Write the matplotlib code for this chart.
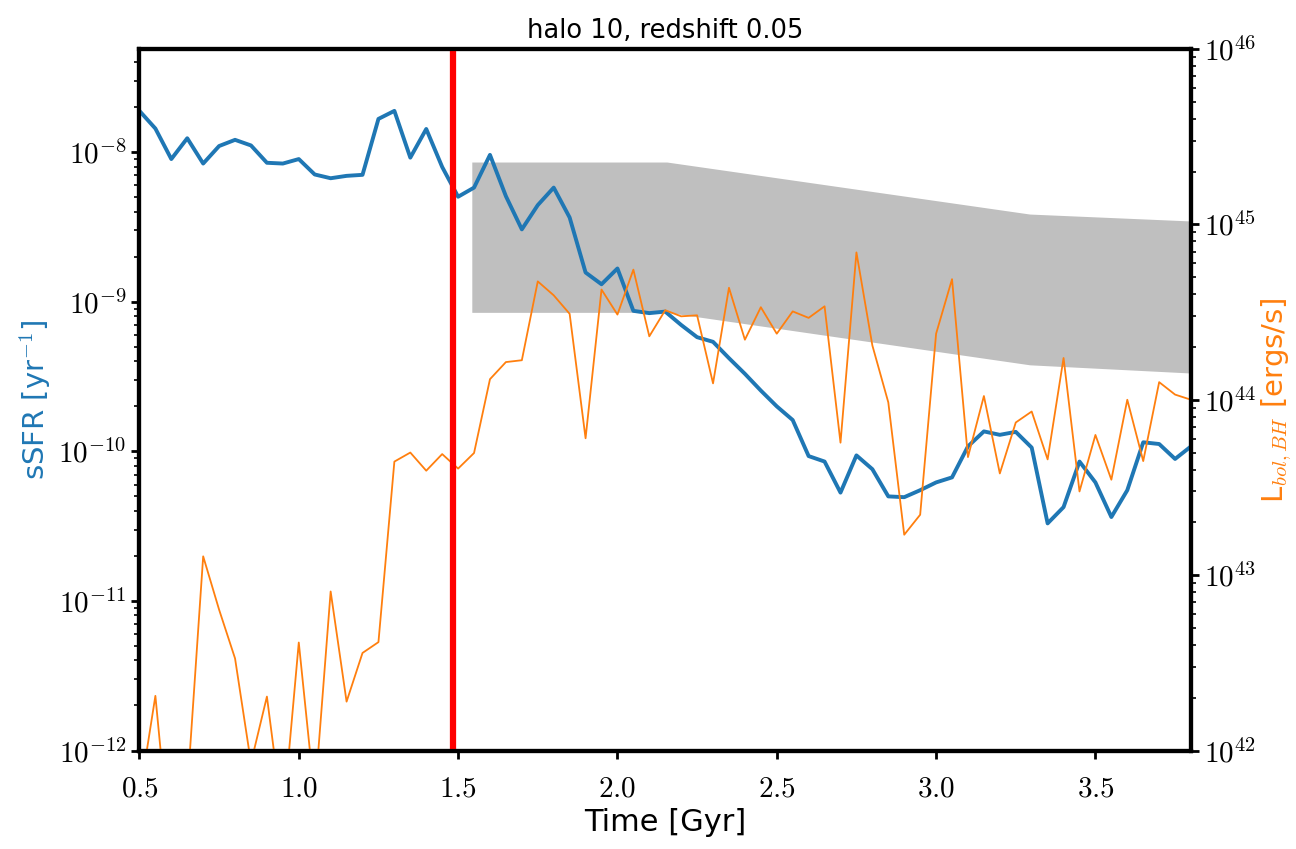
import numpy as np
import matplotlib
matplotlib.use("Agg")
import matplotlib.pyplot as plt
from matplotlib.ticker import FuncFormatter, LogLocator, NullFormatter

plt.rcParams['mathtext.fontset'] = 'cm'
plt.rcParams['font.family'] = ['DejaVu Sans']

# time grid (Gyr)
time = np.round(np.arange(0.5, 3.8001, 0.05), 2)

# specific star formation rate [1/yr]
ssfr = [1.89e-8, 1.44e-8, 9.0e-9, 1.24e-8, 8.4e-9, 1.10e-8, 1.21e-8, 1.11e-8, 8.5e-9, 8.4e-9,
        9.0e-9, 7.1e-9, 6.7e-9, 6.95e-9, 7.06e-9, 1.67e-8, 1.89e-8, 9.2e-9, 1.43e-8, 7.97e-9,
        5.04e-9, 5.8e-9, 9.6e-9, 5.08e-9, 3.05e-9, 4.43e-9, 5.8e-9, 3.66e-9, 1.57e-9, 1.31e-9,
        1.67e-9, 8.7e-10, 8.4e-10, 8.6e-10, 7.0e-10, 5.8e-10, 5.4e-10, 4.2e-10, 3.3e-10, 2.55e-10,
        2.0e-10, 1.62e-10, 9.3e-11, 8.55e-11, 5.3e-11, 9.4e-11, 7.6e-11, 5.0e-11, 4.94e-11, 5.5e-11,
        6.2e-11, 6.7e-11, 1.08e-10, 1.36e-10, 1.29e-10, 1.35e-10, 1.06e-10, 3.3e-11, 4.24e-11, 8.55e-11,
        6.2e-11, 3.64e-11, 5.5e-11, 1.15e-10, 1.12e-10, 8.9e-11, 1.08e-10]

# black hole bolometric luminosity [erg/s]
lbol = [5.4e41, 2.05e42, 2.3e41, 5.9e41, 1.28e43, 6.35e42, 3.35e42, 8.5e41, 2.03e42, 4.0e41,
        4.13e42, 5.4e41, 8.07e42, 1.9e42, 3.6e42, 4.15e42, 4.44e43, 5.0e43, 3.94e43, 4.9e43,
        4.05e43, 4.97e43, 1.31e44, 1.64e44, 1.68e44, 4.73e44, 3.94e44, 3.09e44, 6.03e43, 4.25e44,
        3.06e44, 5.52e44, 2.3e44, 3.24e44, 2.99e44, 3.03e44, 1.24e44, 4.35e44, 2.2e44, 3.37e44,
        2.38e44, 3.19e44, 2.93e44, 3.41e44, 5.69e43, 6.92e44, 2.04e44, 9.66e43, 1.7e43, 2.21e43,
        2.38e44, 4.87e44, 4.71e43, 1.05e44, 3.8e43, 7.42e43, 8.57e43, 4.57e43, 1.73e44, 3.0e43,
        6.3e43, 3.5e43, 1.0e44, 4.47e43, 1.26e44, 1.07e44, 1.0e44]

# star-forming band
band_t = [1.543, 2.155, 3.294, 3.8]
band_lo = [8.5e-10, 8.5e-10, 3.79e-10, 3.34e-10]
band_hi = [8.6e-9, 8.6e-9, 3.86e-9, 3.47e-9]

t_event = 1.483

fig = plt.figure(figsize=(12.96, 8.49), dpi=100)
ax1 = fig.add_axes([0.1076, 0.116, 0.8114, 0.8263])
ax2 = ax1.twinx()

ax1.fill_between(band_t, band_lo, band_hi, color='#bfbfbf', lw=0, zorder=1)
ax1.plot(time, ssfr, color='#1f77b4', lw=2.8, zorder=3)
ax2.plot(time, lbol, color='#ff7f0e', lw=1.3)
ax2.axvline(t_event, color='red', lw=4.5)

ax1.set_yscale('log')
ax2.set_yscale('log')
ax1.set_xlim(0.5, 3.8)
ax1.set_ylim(1e-12, 4.9e-8)
ax2.set_ylim(1e42, 1e46)
ax1.set_xticks([0.5, 1.0, 1.5, 2.0, 2.5, 3.0, 3.5])
ax1.xaxis.set_major_formatter(FuncFormatter(lambda v, p: r'$%.1f$' % v))

log_fmt = FuncFormatter(lambda v, p: r'$10^{%d}$' % int(round(np.log10(v))))
for ax in (ax1, ax2):
    ax.yaxis.set_major_locator(LogLocator(base=10, numticks=10))
    ax.yaxis.set_major_formatter(log_fmt)
    ax.yaxis.set_minor_formatter(NullFormatter())
    for s in ax.spines.values():
        s.set_linewidth(3)
    ax.tick_params(which='major', length=6, width=2, labelsize=21)
    ax.tick_params(which='minor', length=3.5, width=1.2)
ax1.tick_params(axis='x', labelsize=21, pad=11)

ax1.set_title('halo 10, redshift 0.05', fontsize=18.5, pad=8)
ax1.set_xlabel('Time [Gyr]', fontsize=22, labelpad=4)
ax1.set_ylabel(r'sSFR [yr$^{-1}$]', fontsize=21, color='#1f77b4', labelpad=4)
ax2.set_ylabel(r'L$_{bol,BH}$ [ergs/s]', fontsize=21, color='#ff7f0e', labelpad=2)

fig.savefig('out.png', dpi=100, facecolor='white')
